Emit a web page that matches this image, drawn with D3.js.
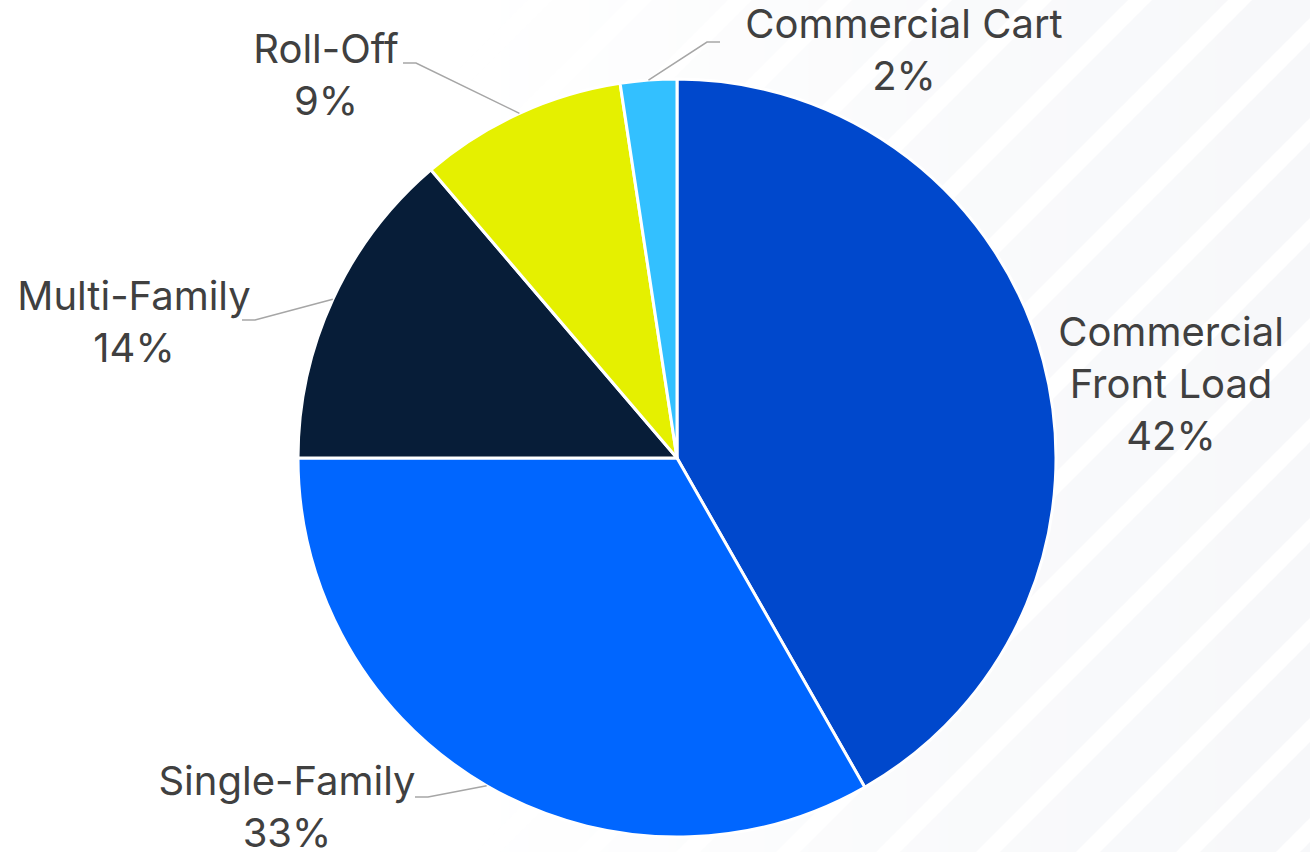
<!DOCTYPE html>
<html lang="en">
<head>
<meta charset="UTF-8">
<title>Collection Revenue Mix</title>
<style>
    body {
        margin: 0;
        background: #ffffff;
        font-family: Inter, "Open Sans", sans-serif;
    }
    .slice-label {
        fill: #404040;
        font-size: 40px;
        text-anchor: middle;
    }
    .leader {
        fill: none;
        stroke: #a6a6a6;
        stroke-width: 1.5;
    }
</style>
<script src="https://d3js.org/d3.v7.min.js"></script>
</head>
<body>
<div id="chart"></div>
<script>
// slice data, clockwise from 12 o'clock
var categories = ["Commercial Front Load", "Single-Family", "Multi-Family", "Roll-Off", "Commercial Cart"];
var labelLines = [["Commercial", "Front Load"], ["Single-Family"], ["Multi-Family"], ["Roll-Off"], ["Commercial Cart"]];
var shares = [41.75, 33.25, 13.75, 8.85, 2.4];
var colors = ["#0048cc", "#0066ff", "#071d38", "#e5f000", "#33c0ff"];

// label placement relative to the pie centre (manual, like the original)
var labelLayout = [
    {x: 494, y: -112, leader: null},
    {x: -390, y: 337, leader: {x: -262, y: 339, dir: 1}},
    {x: -543, y: -148, leader: {x: -435, y: -138, dir: 1}},
    {x: -351, y: -395, leader: {x: -274, y: -395, dir: 1}},
    {x: 227, y: -420, leader: {x: 43, y: -416, dir: -1}}
];

var width = 1310, height = 852,
    cx = 677, cy = 458, radius = 379,
    lineGap = 52;

var svg = d3.select("#chart")
  .append("svg")
    .attr("width", width)
    .attr("height", height);

// faint diagonal bands in the background, fading out to the left
var defs = svg.append("defs");
var fade = defs.append("linearGradient")
    .attr("id", "fade")
    .attr("x1", 0).attr("x2", 1).attr("y1", 0).attr("y2", 0);
fade.append("stop").attr("offset", "0.35").attr("stop-color", "#fff").attr("stop-opacity", 0);
fade.append("stop").attr("offset", "0.75").attr("stop-color", "#fff").attr("stop-opacity", 0.75);
fade.append("stop").attr("offset", "1").attr("stop-color", "#fff").attr("stop-opacity", 1);
defs.append("mask").attr("id", "bandMask")
  .append("rect")
    .attr("width", width).attr("height", height)
    .attr("fill", "url(#fade)");

var bands = svg.append("g").attr("mask", "url(#bandMask)");
d3.range(-10, 14).forEach(function(i) {
    var off = i * 100;
    bands.append("polygon")
        .attr("points", [[off, height], [off + 76, height], [off + 76 + height, 0], [off + height, 0]].join(" "))
        .attr("fill", "#f7f8fa");
});

var g = svg.append("g")
    .attr("transform", "translate(" + cx + "," + cy + ")");

var pie = d3.pie().sort(null).value(function(d) { return d; });
var arc = d3.arc().innerRadius(0).outerRadius(radius);
var arcs = pie(shares);
var pct = d3.format(".0%");
var total = d3.sum(shares);

g.selectAll("path.slice")
  .data(arcs)
  .enter()
  .append("path")
    .attr("class", "slice")
    .attr("d", arc)
    .attr("fill", function(d, i) { return colors[i]; })
    .attr("stroke", "#ffffff")
    .attr("stroke-width", 3)
    .attr("stroke-linejoin", "round");

// leader lines from the outer edge at the slice's middle angle
arcs.forEach(function(d, i) {
    var lay = labelLayout[i];
    if (!lay.leader) return;
    var mid = (d.startAngle + d.endAngle) / 2;
    var start = [radius * Math.sin(mid), -radius * Math.cos(mid)];
    var end = [lay.leader.x, lay.leader.y];
    var elbow = [end[0] + 13 * lay.leader.dir, end[1]];
    g.append("polyline")
        .attr("class", "leader")
        .attr("points", [start, elbow, end].join(" "));
});

// labels: category lines then the percentage
arcs.forEach(function(d, i) {
    var lay = labelLayout[i];
    var lines = labelLines[i].concat([pct(d.data / total)]);
    var t = g.append("text")
        .attr("class", "slice-label")
        .attr("x", lay.x)
        .attr("y", lay.y);
    lines.forEach(function(s, k) {
        t.append("tspan")
            .attr("x", lay.x)
            .attr("dy", k === 0 ? 0 : lineGap)
            .text(s);
    });
});
</script>
</body>
</html>
